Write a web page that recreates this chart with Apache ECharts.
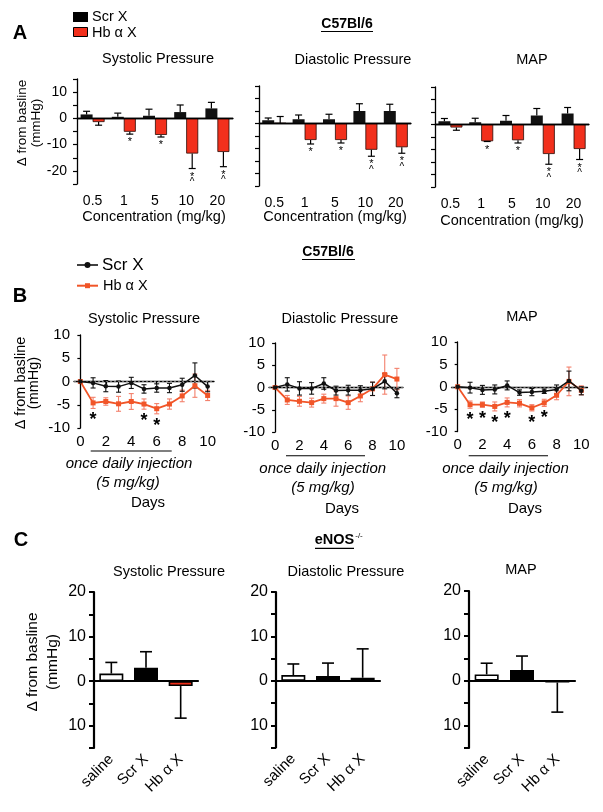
<!DOCTYPE html>
<html><head><meta charset="utf-8">
<script src="https://cdn.jsdelivr.net/npm/echarts@6/dist/echarts.min.js"></script>
<style>html,body{margin:0;padding:0;background:#fff}#c{width:603px;height:812px}</style>
</head><body><div id="c"></div><script>
const FONT = '"Liberation Sans", Arial, Helvetica, sans-serif';

// ---------- Panel A : dose response (C57Bl/6) ----------
const doses = ['0.5', '1', '5', '10', '20'];
const aSysScr    = [1.5, 0.6, 1.0, 2.4, 3.8];
const aSysScrEnd = [2.7, 2.0, 3.5, 5.1, 6.1];
const aSysHb     = [-1.4, -5.1, -6.3, -13.4, -12.8];
const aSysHbEnd  = [-2.6, -6.0, -7.1, -19.1, -18.4];
const aSysSig    = ['', '*', '*', '*^', '*^'];

const aDiaScr    = [1.3, 1.7, 1.7, 5.0, 5.0];
const aDiaScrEnd = [2.2, 3.4, 3.7, 7.9, 7.7];
const aDiaHb     = [0.2, -6.6, -6.6, -10.5, -9.5];
const aDiaHbEnd  = [2.8, -8.2, -7.8, -13.1, -11.9];
const aDiaSig    = ['', '*', '*', '*^', '*^'];

const aMapScr    = [1.3, 0.9, 1.5, 3.6, 4.4];
const aMapScrEnd = [2.4, 2.5, 3.6, 6.4, 6.8];
const aMapHb     = [-1.2, -6.7, -6.3, -11.8, -9.8];
const aMapHbEnd  = [-2.3, -6.8, -7.4, -15.9, -14.0];
const aMapSig    = ['', '*', '*', '*^', '*^'];

// ---------- Panel B : daily injection time course ----------
const days = [0, 1, 2, 3, 4, 5, 6, 7, 8, 9, 10];
const dayTicks = [0, 2, 4, 6, 8, 10];
const bSysScr    = [0, -0.3, -1.0, -1.1, -0.3, -1.6, -1.4, -1.4, -0.7, 1.3, -1.1];
const bSysScrSem = [0, 1.1, 1.2, 1.2, 1.2, 0.9, 0.9, 1.0, 1.4, 2.7, 1.1];
const bSysHb     = [0, -4.6, -4.3, -4.8, -4.3, -4.85, -5.85, -4.85, -3.1, -0.9, -3.0];
const bSysHbSem  = [0, 1.2, 0.8, 1.6, 1.7, 1.1, 1.1, 1.1, 1.25, 2.5, 1.1];
const bSysStars  = [1, 5, 6];

const bDiaScr    = [0, 0.7, -0.2, -0.2, 0.9, -0.7, -0.6, -0.6, -0.3, 1.4, -1.3];
const bDiaScrSem = [0, 1.5, 1.5, 1.3, 1.3, 1.0, 1.1, 1.0, 1.5, 1.7, 1.0];
const bDiaHb     = [0, -2.8, -3.1, -3.4, -2.5, -2.5, -3.4, -1.9, -0.3, 2.9, 1.9];
const bDiaHbSem  = [0, 1.0, 1.1, 1.0, 1.0, 1.7, 1.5, 1.3, 1.5, 4.4, 2.4];
const bDiaStars  = [];

const bMapScr    = [0, -0.2, -0.7, -0.6, 0.3, -1.3, -1.2, -1.0, -0.6, 1.3, -0.9];
const bMapScrSem = [0, 1.2, 1.0, 1.0, 1.0, 0.6, 0.8, 0.5, 1.0, 2.2, 0.9];
const bMapHb     = [0, -4.0, -4.0, -4.4, -3.5, -3.7, -4.7, -3.6, -1.9, 1.2, -0.8];
const bMapHbSem  = [0, 0.8, 0.6, 1.0, 1.0, 0.8, 0.7, 0.8, 1.0, 3.2, 1.0];
const bMapStars  = [1, 2, 3, 4, 6, 7];

// ---------- Panel C : eNOS-/- ----------
const groups = ['saline', 'Scr X', 'Hb \u03b1 X'];
const cSys = [1.7, 3.0, -1.1];  const cSysEnd = [4.2, 6.6, -8.3];
const cDia = [1.3, 1.1, 0.7];   const cDiaEnd = [3.8, 4.0, 7.2];
const cMap = [1.4, 2.4, -0.4];  const cMapEnd = [3.9, 5.5, -7.0];

// ---------- styles ----------
const RED = '#f2301c', LRED = '#f15528', ERED = '#f3806c';
const cStyles = [
  {color: '#ffffff', borderColor: '#000', borderWidth: 1.6},
  {color: '#000000', borderColor: '#000', borderWidth: 1.6},
  {color: '#ee2d18', borderColor: '#000', borderWidth: 1.6}
];

const grids = [
  {left: 77, top: 79, width: 156, height: 105},
  {left: 259, top: 86, width: 152, height: 100},
  {left: 435, top: 87, width: 154, height: 100},
  {left: 74, top: 335, width: 140, height: 93},
  {left: 269, top: 343, width: 134, height: 89},
  {left: 451.5, top: 342, width: 136, height: 89.5},
  {left: 94, top: 592, width: 104, height: 156},
  {left: 276, top: 592, width: 104, height: 155.5},
  {left: 469, top: 591, width: 106, height: 157}
].map(g => Object.assign({outerBoundsMode: 'none', containLabel: false}, g));

const lbl = (size, extra) => Object.assign({color: '#000', fontSize: size, fontFamily: FONT}, extra || {});

const xAxes = [], yAxes = [];
for (let i = 0; i < 3; i++) {
  xAxes.push({type: 'category', gridIndex: i, data: doses,
    axisLine: {lineStyle: {color: '#000', width: 1.3}},
    axisTick: {alignWithLabel: true, length: 4, lineStyle: {color: '#000', width: 1.2}},
    axisLabel: lbl(14, {margin: 10})});
  yAxes.push({type: 'value', gridIndex: i, min: -25, max: 15, interval: 5,
    axisLine: {show: true, lineStyle: {color: '#000', width: 1.3}},
    axisTick: {show: true, length: 4, lineStyle: {color: '#000', width: 1.2}},
    splitLine: {show: false},
    axisLabel: lbl(14, {show: i === 0, margin: 10, formatter: v => (v % 10 === 0 ? String(v) : '')})});
}
for (let i = 3; i < 6; i++) {
  xAxes.push({type: 'value', gridIndex: i, min: -0.5, max: 10.5,
    axisLine: {lineStyle: {color: '#000', width: 1.3}},
    axisTick: {customValues: dayTicks, length: 3, lineStyle: {color: '#000', width: 1.2}},
    splitLine: {show: false},
    axisLabel: lbl(15, {customValues: dayTicks, margin: 6})});
  yAxes.push({type: 'value', gridIndex: i, min: -10, max: 10, interval: 5,
    axisLine: {show: true, lineStyle: {color: '#000', width: 1.3}},
    axisTick: {show: true, length: 3, lineStyle: {color: '#000', width: 1.2}},
    splitLine: {show: false},
    axisLabel: lbl(15, {margin: 4})});
}
for (let i = 6; i < 9; i++) {
  xAxes.push({type: 'category', gridIndex: i, data: groups,
    axisLine: {lineStyle: {color: '#000', width: 2.2}},
    axisTick: {alignWithLabel: true, length: 5, lineStyle: {color: '#000', width: 2}},
    axisLabel: lbl(15, {rotate: 45, margin: 9})});
  yAxes.push({type: 'value', gridIndex: i, min: -15, max: 20, interval: 5,
    axisLine: {show: true, lineStyle: {color: '#000', width: 2.2}},
    axisTick: {show: true, length: 5, lineStyle: {color: '#000', width: 2}},
    splitLine: {show: false},
    axisLabel: lbl(16, {margin: 8, formatter: v => (v % 10 === 0 ? String(Math.abs(v)) : '')})});
}

// ---------- series helpers ----------
function zeroLine(color, width, type) {
  return {silent: true, symbol: 'none', label: {show: false}, animation: false,
    lineStyle: {color, width, type}, data: [{yAxis: 0}]};
}
function barErr(ax, vals, ends, offset, color, cap, lw) {
  return {type: 'custom', xAxisIndex: ax, yAxisIndex: ax, z: 5, silent: true,
    data: vals.map((v, i) => [i, v, ends[i]]),
    renderItem: (p, api) => {
      const a = api.coord([api.value(0), api.value(1)]);
      const b = api.coord([api.value(0), api.value(2)]);
      const x = a[0] + offset;
      return {type: 'group', children: [
        {type: 'line', shape: {x1: x, y1: a[1], x2: x, y2: b[1]}, style: {stroke: color, lineWidth: lw}},
        {type: 'line', shape: {x1: x - cap / 2, y1: b[1], x2: x + cap / 2, y2: b[1]}, style: {stroke: color, lineWidth: lw}}
      ]};
    }};
}
function barSig(ax, ends, sigs, offset) {
  return {type: 'custom', xAxisIndex: ax, yAxisIndex: ax, z: 6, silent: true,
    data: ends.map((e, i) => [i, e]),
    renderItem: (p, api) => {
      const s = sigs[p.dataIndex];
      const b = api.coord([api.value(0), api.value(1)]);
      const x = b[0] + offset, kids = [];
      if (s.indexOf('*') >= 0) kids.push({type: 'text', x, y: b[1] + 8,
        style: {text: '*', fontSize: 11, fontFamily: FONT, fill: '#000', align: 'center', verticalAlign: 'middle'}});
      if (s.indexOf('^') >= 0) kids.push({type: 'text', x, y: b[1] + 14,
        style: {text: '^', fontSize: 10, fontFamily: FONT, fill: '#000', align: 'center', verticalAlign: 'middle'}});
      return {type: 'group', children: kids};
    }};
}
function panelA(ax, scr, scrEnd, hb, hbEnd, sig) {
  return [
    {type: 'bar', name: 'Scr X', xAxisIndex: ax, yAxisIndex: ax, data: scr, barWidth: 12, barGap: '0%',
      itemStyle: {color: '#111'}, markLine: zeroLine('#000', 1.3, 'solid'), z: 3},
    {type: 'bar', name: 'Hb \u03b1 X', xAxisIndex: ax, yAxisIndex: ax, data: hb, barWidth: 12, barGap: '0%',
      itemStyle: {color: RED, borderColor: '#2a0a05', borderWidth: 0.8}, z: 3},
    barErr(ax, scr, scrEnd, -6, '#000', 7, 1.2),
    barErr(ax, hb, hbEnd, 6, '#000', 7, 1.2),
    barSig(ax, hbEnd, sig, 6)
  ];
}
function ptErr(ax, vals, sems, color, cap, lw) {
  return {type: 'custom', xAxisIndex: ax, yAxisIndex: ax, z: 3, silent: true,
    data: days.map((d, i) => [d, vals[i], sems[i]]),
    renderItem: (p, api) => {
      const d = api.value(0), v = api.value(1), s = api.value(2);
      if (!s) return {type: 'group', children: []};
      const t = api.coord([d, v + s]), b = api.coord([d, v - s]);
      const x = t[0];
      const st = {stroke: color, lineWidth: lw};
      return {type: 'group', children: [
        {type: 'line', shape: {x1: x, y1: t[1], x2: x, y2: b[1]}, style: st},
        {type: 'line', shape: {x1: x - cap / 2, y1: t[1], x2: x + cap / 2, y2: t[1]}, style: st},
        {type: 'line', shape: {x1: x - cap / 2, y1: b[1], x2: x + cap / 2, y2: b[1]}, style: st}
      ]};
    }};
}
function ptStars(ax, stars, hb, hbSem) {
  return {type: 'custom', xAxisIndex: ax, yAxisIndex: ax, z: 6, silent: true,
    data: stars.map(d => [d, hb[d] - hbSem[d]]),
    renderItem: (p, api) => {
      const c = api.coord([api.value(0), api.value(1)]);
      return {type: 'text', x: c[0], y: c[1] + 12,
        style: {text: '*', fontSize: 18, fontWeight: 'bold', fontFamily: FONT, fill: '#000', align: 'center', verticalAlign: 'middle'}};
    }};
}
function panelB(ax, scr, scrSem, hb, hbSem, stars) {
  return [
    ptErr(ax, hb, hbSem, ERED, 5, 1.1),
    ptErr(ax, scr, scrSem, '#111', 5, 1.1),
    {type: 'line', name: 'Hb \u03b1 X', xAxisIndex: ax, yAxisIndex: ax, data: days.map((d, i) => [d, hb[i]]),
      symbol: 'rect', symbolSize: 5, lineStyle: {color: LRED, width: 1.8}, itemStyle: {color: LRED}, z: 4},
    {type: 'line', name: 'Scr X', xAxisIndex: ax, yAxisIndex: ax, data: days.map((d, i) => [d, scr[i]]),
      symbol: 'circle', symbolSize: 4.5, lineStyle: {color: '#111', width: 1.5}, itemStyle: {color: '#111'}, z: 5,
      markLine: zeroLine('#8a8a8a', 0.8, [2, 2])},
    ptStars(ax, stars, hb, hbSem)
  ];
}
function panelC(ax, vals, ends) {
  return [
    {type: 'bar', xAxisIndex: ax, yAxisIndex: ax, barWidth: 24, z: 3,
      data: vals.map((v, i) => ({value: v, itemStyle: cStyles[i]})),
      markLine: zeroLine('#000', 2.2, 'solid')},
    barErr(ax, vals, ends, 0, '#000', 12, 1.6)
  ];
}

const series = [].concat(
  panelA(0, aSysScr, aSysScrEnd, aSysHb, aSysHbEnd, aSysSig),
  panelA(1, aDiaScr, aDiaScrEnd, aDiaHb, aDiaHbEnd, aDiaSig),
  panelA(2, aMapScr, aMapScrEnd, aMapHb, aMapHbEnd, aMapSig),
  panelB(3, bSysScr, bSysScrSem, bSysHb, bSysHbSem, bSysStars),
  panelB(4, bDiaScr, bDiaScrSem, bDiaHb, bDiaHbSem, bDiaStars),
  panelB(5, bMapScr, bMapScrSem, bMapHb, bMapHbSem, bMapStars),
  panelC(6, cSys, cSysEnd),
  panelC(7, cDia, cDiaEnd),
  panelC(8, cMap, cMapEnd)
);

// ---------- annotations ----------
function T(x, y, text, o) {
  o = o || {};
  return {type: 'text', x, y, rotation: o.rot || 0, silent: true, z: 10,
    style: {text, fill: '#000', fontFamily: FONT, fontSize: o.size || 14.5,
      fontWeight: o.weight || 'normal', fontStyle: o.style || 'normal',
      align: o.align || 'center', verticalAlign: 'middle',
      textAlign: o.align || 'center', textVerticalAlign: 'middle', lineHeight: o.lh || undefined}};
}
function L(x1, y1, x2, y2, color, w) {
  return {type: 'line', silent: true, z: 10, shape: {x1, y1, x2, y2}, style: {stroke: color || '#000', lineWidth: w || 1.2}};
}
const YNAME = '\u0394 from basline\n(mmHg)';
const graphics = [
  // Panel A
  T(20, 33, 'A', {size: 20, weight: 'bold'}),
  {type: 'rect', silent: true, shape: {x: 73, y: 12, width: 15, height: 10}, style: {fill: '#000'}},
  T(92, 17, 'Scr X', {align: 'left'}),
  {type: 'rect', silent: true, shape: {x: 73.5, y: 27.5, width: 14, height: 9}, style: {fill: RED, stroke: '#000', lineWidth: 1}},
  T(92, 33, 'Hb \u03b1 X', {align: 'left'}),
  T(347, 24, 'C57Bl/6', {weight: 'bold', size: 14}),
  L(321, 31.5, 373, 31.5, '#000', 1.2),
  T(158, 59, 'Systolic Pressure'),
  T(353, 60, 'Diastolic Pressure'),
  T(532, 60, 'MAP'),
  T(29, 123, YNAME, {rot: Math.PI / 2, size: 13.5, lh: 14}),
  T(154, 217, 'Concentration (mg/kg)'),
  T(335, 217, 'Concentration (mg/kg)'),
  T(512, 221, 'Concentration (mg/kg)'),
  // Panel B
  T(328, 252, 'C57Bl/6', {weight: 'bold', size: 14}),
  L(302, 259.5, 355, 259.5, '#000', 1.2),
  L(77, 265, 98, 265, '#111', 1.6),
  {type: 'circle', silent: true, shape: {cx: 87.5, cy: 265, r: 3}, style: {fill: '#111'}},
  T(102, 265.5, 'Scr X', {align: 'left', size: 17}),
  L(77, 285.7, 98, 285.7, LRED, 2),
  {type: 'rect', silent: true, shape: {x: 85, y: 283.2, width: 5, height: 5}, style: {fill: LRED}},
  T(103, 286, 'Hb \u03b1 X', {align: 'left', size: 14.5}),
  T(20, 296, 'B', {size: 20, weight: 'bold'}),
  T(144, 319, 'Systolic Pressure'),
  T(340, 319, 'Diastolic Pressure'),
  T(522, 317, 'MAP'),
  T(27, 383, YNAME, {rot: Math.PI / 2, size: 14.5, lh: 13}),
  L(90.7, 451, 171.7, 451, '#000', 1.1),
  T(129, 464, 'once daily injection', {style: 'italic', size: 15}),
  T(128, 482.7, '(5 mg/kg)', {style: 'italic', size: 15}),
  T(148, 503, 'Days', {size: 15}),
  L(286, 455.7, 365, 455.7, '#000', 1.1),
  T(322.7, 469.3, 'once daily injection', {style: 'italic', size: 15}),
  T(323, 487.7, '(5 mg/kg)', {style: 'italic', size: 15}),
  T(342, 509, 'Days', {size: 15}),
  L(468.7, 455.7, 548, 455.7, '#000', 1.1),
  T(505.5, 469, 'once daily injection', {style: 'italic', size: 15}),
  T(506, 487.7, '(5 mg/kg)', {style: 'italic', size: 15}),
  T(525, 509, 'Days', {size: 15}),
  // Panel C
  T(21, 540, 'C', {size: 20, weight: 'bold'}),
  T(334.5, 540, 'eNOS', {weight: 'bold', size: 14.5}),
  T(359, 536, '-/-', {size: 8}),
  L(315, 548.3, 354, 548.3, '#000', 1.2),
  T(169, 571.7, 'Systolic Pressure'),
  T(346, 571.7, 'Diastolic Pressure'),
  T(521, 570, 'MAP'),
  T(43, 662, YNAME, {rot: Math.PI / 2, size: 15.5, lh: 20})
];

const chart = echarts.init(document.getElementById('c'), null, {renderer: 'canvas'});
chart.setOption({
  animation: false,
  backgroundColor: '#fff',
  textStyle: {fontFamily: FONT},
  grid: grids,
  xAxis: xAxes,
  yAxis: yAxes,
  series,
  graphic: {elements: graphics}
});
</script></body></html>
